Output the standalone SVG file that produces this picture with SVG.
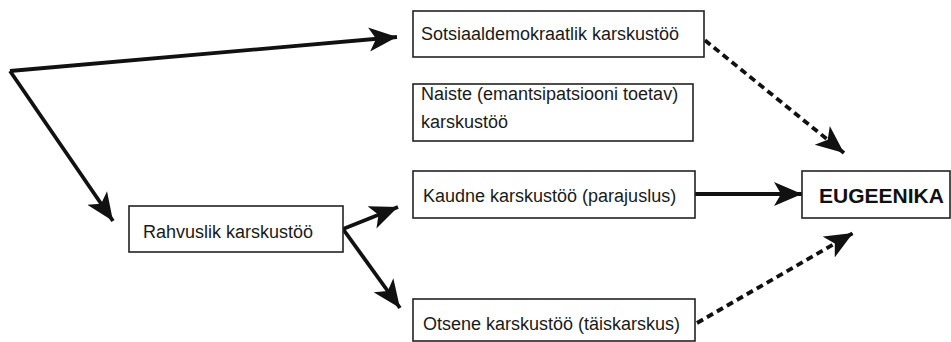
<svg xmlns="http://www.w3.org/2000/svg" width="951" height="342" viewBox="0 0 951 342">
<defs>
<marker id="ah" markerUnits="userSpaceOnUse" markerWidth="30" markerHeight="26" refX="28" refY="13" orient="auto">
<path d="M0,1 L28,13 L0,25 L7,13 Z" fill="#111"/>
</marker>
<style>
.box{fill:#fff;stroke:#222;stroke-width:1.6}
.t{font-family:"Liberation Sans",Arial,sans-serif;font-size:18px;fill:#1a1a1a}
.b{font-family:"Liberation Sans",Arial,sans-serif;font-size:21px;font-weight:bold;fill:#111}
.c{fill:none;stroke:#111;stroke-width:3.8;marker-end:url(#ah)}
.d{stroke-dasharray:7,4.5}
</style>
</defs>
<rect width="951" height="342" fill="#fff"/>
<g id="connectors">
<line class="c" x1="10" y1="71" x2="397" y2="37"/>
<line class="c" x1="10" y1="71" x2="113" y2="221"/>
<line class="c" x1="343" y1="229" x2="398" y2="207"/>
<line class="c" x1="343" y1="229" x2="400" y2="308"/>
<line class="c" x1="695" y1="194" x2="802" y2="194"/>
<line class="c d" x1="696" y1="33" x2="844" y2="153"/>
<line class="c d" x1="697" y1="323" x2="853" y2="233"/>
</g>
<g id="n-sotsiaal"><rect class="box" x="413" y="11" width="291" height="46"/><text class="t" x="421" y="40">Sotsiaaldemokraatlik karskustöö</text></g>
<g id="n-naiste"><rect class="box" x="413" y="84" width="280" height="57"/><text class="t" x="421" y="100">Naiste (emantsipatsiooni toetav)</text><text class="t" x="421" y="128">karskustöö</text></g>
<g id="n-rahvuslik"><rect class="box" x="129" y="206" width="214" height="46"/><text class="t" x="143" y="238">Rahvuslik karskustöö</text></g>
<g id="n-kaudne"><rect class="box" x="413" y="171" width="282" height="47"/><text class="t" x="423" y="202">Kaudne karskustöö (parajuslus)</text></g>
<g id="n-otsene"><rect class="box" x="413" y="299" width="282" height="42"/><text class="t" x="423" y="330">Otsene karskustöö (täiskarskus)</text></g>
<g id="n-eugeenika"><rect class="box" x="802" y="171" width="148" height="47"/><text class="b" x="819" y="203">EUGEENIKA</text></g>
</svg>
